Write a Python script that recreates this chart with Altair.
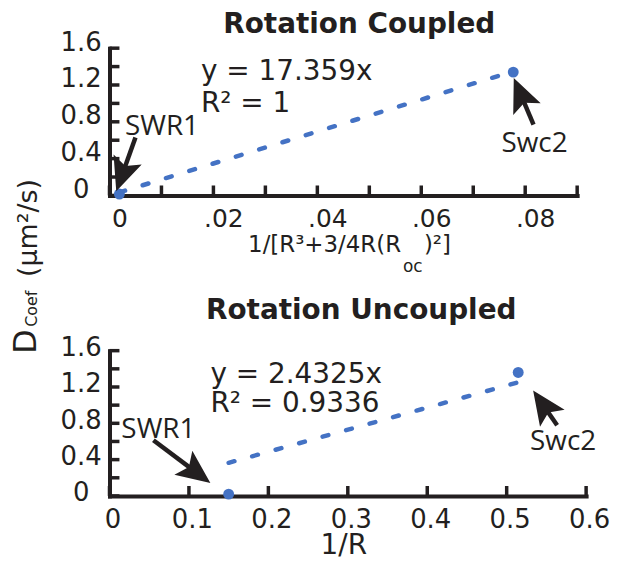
import math
import altair as alt
import pandas as pd

INK = "#231f20"
BLUE = "#4472c4"

# ---------------- Rotation Coupled ----------------
coupled_names = ["SWR1", "Swc2"]
coupled_x = [0.0019, 0.0777]
coupled_y = [0.015, 1.34]
coupled_slope = 17.359
coupled_eq = ["y = 17.359x", "R² = 1"]
coupled_eq_x = [0.0176, 0.0176]
coupled_eq_y = [1.254, 0.908]
coupled_label_x = [0.0101, 0.0818]
coupled_label_y = [0.659, 0.476]
coupled_tail_x = [0.0050, 0.0816]
coupled_tail_y = [0.63, 0.77]
coupled_tip_x = [0.0013, 0.0778]
coupled_tip_y = [0.045, 1.276]

# ---------------- Rotation Uncoupled ----------------
uncoupled_names = ["SWR1", "Swc2"]
uncoupled_x = [0.150, 0.5145]
uncoupled_y = [0.02, 1.36]
uncoupled_slope = 2.4325
uncoupled_eq = ["y = 2.4325x", "R² = 0.9336"]
uncoupled_eq_x = [0.127, 0.127]
uncoupled_eq_y = [1.249, 0.921]
uncoupled_label_x = [0.0616, 0.571]
uncoupled_label_y = [0.636, 0.504]
uncoupled_tail_x = [0.0553, 0.5635]
uncoupled_tail_y = [0.614, 0.778]
uncoupled_tip_x = [0.127, 0.5333]
uncoupled_tip_y = [0.142, 1.162]

# ---------------- axes ----------------
y_domain = [0, 1.6]
y_label_values = [0, 0.4, 0.8, 1.2, 1.6]
y_tick_values = [0, 0.2, 0.4, 0.6, 0.8, 1.0, 1.2, 1.4, 1.6]
coupled_x_domain = [0, 0.09]
coupled_x_label_values = [0, 0.02, 0.04, 0.06, 0.08]
coupled_x_tick_values = [0, 0.01, 0.02, 0.03, 0.04, 0.05, 0.06, 0.07, 0.08, 0.09]
uncoupled_x_domain = [0, 0.6]
uncoupled_x_label_values = [0, 0.1, 0.2, 0.3, 0.4, 0.5, 0.6]
uncoupled_x_tick_values = [0, 0.1, 0.2, 0.3, 0.4, 0.5, 0.6]

panel_titles = ["Rotation Coupled", "Rotation Uncoupled"]
coupled_x_title_parts = ["1/[R³+3/4R(R", "oc", ")²]"]
uncoupled_x_title = "1/R"
y_title_parts = ["D", "Coef", "(μm²/s)"]

TOP_W, TOP_H = 470, 148
BOT_W, BOT_H = 479, 146
HEAD_PATH = "M0,0L15,34L0,27L-15,34Z"
HEAD_INSET = 22


def arrow_frame(tail_x, tail_y, tip_x, tip_y, xdom, W, H):
    rows = []
    for a, b, c, d in zip(tail_x, tail_y, tip_x, tip_y):
        px0, py0 = a / xdom[1] * W, H - b / y_domain[1] * H
        px1, py1 = c / xdom[1] * W, H - d / y_domain[1] * H
        dx, dy = px1 - px0, py1 - py0
        L = math.hypot(dx, dy)
        sxp, syp = px1 - dx / L * HEAD_INSET, py1 - dy / L * HEAD_INSET
        rows.append(dict(tx=a, ty=b, hx=c, hy=d,
                         sx=sxp / W * xdom[1], sy=(H - syp) / H * y_domain[1],
                         ang=math.degrees(math.atan2(dx, -dy)) % 360))
    return pd.DataFrame(rows)


def fixed_text(t, x, y, size, align="left", angle=0, weight="normal"):
    kw = dict(font="DejaVu Sans", fontSize=size, color=INK, align=align,
              baseline="alphabetic", fontWeight=weight)
    if angle:
        kw["angle"] = angle
    return alt.Chart(pd.DataFrame(dict(t=[t]))).mark_text(**kw).encode(
        x=alt.value(x), y=alt.value(y), text="t:N")


def panel(W, H, xdom, xlabels, xticks, xlabelexpr, xlab_offset, xlab_size,
          ylab_offset, names, px, py, slope, eq, eqx, eqy, lx, ly,
          tx, ty, hx, hy, xtitle=None, extra=()):
    xs = alt.Scale(domain=xdom, nice=False, zero=False)
    ys = alt.Scale(domain=y_domain, nice=False, zero=False)
    xaxis_kw = dict(values=xlabels, labelExpr=xlabelexpr, labelPadding=11,
                    labelOffset=xlab_offset, labelFont="DejaVu Sans",
                    labelFontSize=xlab_size, labelColor=INK, labelFlush=False,
                    labelOverlap=False, ticks=False, tickSize=0, grid=False,
                    domainColor=INK, domainWidth=4, domainCap="square")
    if xtitle is not None:
        xaxis_kw.update(title=xtitle, titleFont="DejaVu Sans", titleFontSize=28,
                        titleFontWeight="normal", titleColor=INK,
                        titleBaseline="alphabetic", titleAlign="center",
                        titleX=235, titleY=58)
    else:
        xaxis_kw.update(title=None)
    xaxis = alt.Axis(**xaxis_kw)
    yaxis = alt.Axis(values=y_label_values,
                     labelExpr="datum.value == 0 ? '0' : format(datum.value, '.1f')",
                     labelAlign="center", labelBaseline="middle", labelPadding=29,
                     labelOffset=ylab_offset, labelFont="DejaVu Sans",
                     labelFontSize=26, labelColor=INK, labelOverlap=False,
                     ticks=False, tickSize=0, grid=False, domainColor=INK,
                     domainWidth=4, domainCap="square", title=None)

    X = lambda f: alt.X(f, type="quantitative", scale=xs, axis=xaxis)
    Y = lambda f: alt.Y(f, type="quantitative", scale=ys, axis=yaxis)

    pts = pd.DataFrame(dict(name=names, x=px, y=py))
    points = alt.Chart(pts).mark_circle(size=120, color=BLUE, opacity=1).encode(
        x=X("x"), y=Y("y"))

    yt = alt.Chart(pd.DataFrame(dict(v=y_tick_values))).mark_rule(
        color=INK, strokeWidth=3.5).encode(y=Y("v"), x=alt.value(0), x2=alt.value(10))
    xt = alt.Chart(pd.DataFrame(dict(v=xticks))).mark_rule(
        color=INK, strokeWidth=3.5).encode(x=X("v"), y=alt.value(H), y2=alt.value(H - 10))

    trend = alt.Chart(pd.DataFrame(dict(x=[min(px), max(px)]))).transform_calculate(
        y=f"datum.x * {slope}").mark_line(
        color=BLUE, strokeWidth=4.5, strokeDash=[6, 18.5], strokeCap="round").encode(
        x=X("x"), y=Y("y"))

    adf = arrow_frame(tx, ty, hx, hy, xdom, W, H)
    shafts = alt.Chart(adf).mark_rule(color=INK, strokeWidth=4.5).encode(
        x=X("tx"), y=Y("ty"), x2=alt.X2("sx"), y2=alt.Y2("sy"))
    heads = alt.Chart(adf).mark_point(shape=HEAD_PATH, filled=True, size=4,
                                      color=INK, opacity=1).encode(
        x=X("hx"), y=Y("hy"), angle=alt.Angle("ang:Q", scale=None))

    labels = alt.Chart(pd.DataFrame(dict(t=names, x=lx, y=ly))).mark_text(
        font="Open Sans", fontSize=28, color=INK, align="center",
        baseline="alphabetic").encode(x=X("x"), y=Y("y"), text="t:N")
    eqs = alt.Chart(pd.DataFrame(dict(t=eq, x=eqx, y=eqy))).mark_text(
        font="DejaVu Sans", fontSize=28, color=INK, align="left",
        baseline="alphabetic").encode(x=X("x"), y=Y("y"), text="t:N")

    layers = [yt, xt, trend, points, shafts, heads, labels, eqs] + list(extra)
    return alt.layer(*layers).properties(width=W, height=H)


top_extra = [
    fixed_text(panel_titles[0], 251, -15, 28, align="center", weight="bold"),
    fixed_text(coupled_x_title_parts[0], 293, 205, 23, align="right"),
    fixed_text(coupled_x_title_parts[1], 295, 225, 17),
    fixed_text(coupled_x_title_parts[2], 316, 205, 23),
    fixed_text(y_title_parts[0], -74, 307, 32, angle=270),
    fixed_text(y_title_parts[1], -73, 280, 16, angle=270),
    fixed_text(y_title_parts[2], -73, 230, 27, angle=270),
]
bottom_extra = [
    fixed_text(panel_titles[1], 253, -32, 28, align="center", weight="bold"),
]

top = panel(TOP_W, TOP_H, coupled_x_domain, coupled_x_label_values,
            coupled_x_tick_values,
            "datum.value == 0 ? '0' : replace(format(datum.value, '.2f'), '0.', '.')",
            10, 25, -6, coupled_names, coupled_x, coupled_y, coupled_slope,
            coupled_eq, coupled_eq_x, coupled_eq_y, coupled_label_x, coupled_label_y,
            coupled_tail_x, coupled_tail_y, coupled_tip_x, coupled_tip_y,
            extra=top_extra)

bottom = panel(BOT_W, BOT_H, uncoupled_x_domain, uncoupled_x_label_values,
               uncoupled_x_tick_values,
               "datum.value == 0 ? '0' : format(datum.value, '.1f')",
               3, 26, -3, uncoupled_names, uncoupled_x, uncoupled_y, uncoupled_slope,
               uncoupled_eq, uncoupled_eq_x, uncoupled_eq_y, uncoupled_label_x,
               uncoupled_label_y, uncoupled_tail_x, uncoupled_tail_y,
               uncoupled_tip_x, uncoupled_tip_y, xtitle=uncoupled_x_title,
               extra=bottom_extra)

chart = alt.vconcat(top, bottom, spacing=156, bounds="flush").properties(
    padding={"left": 2, "top": 2, "right": 0, "bottom": 0},
    background="white").configure_view(stroke=None)

chart.save("out.html", embed_options={"renderer": "svg", "actions": False})
